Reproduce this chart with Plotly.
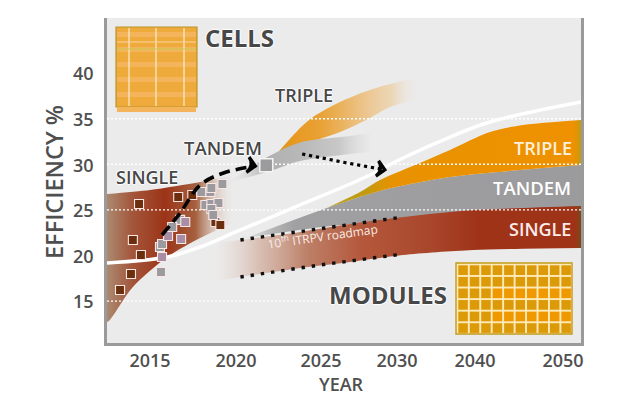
import numpy as np
import plotly.graph_objects as go

# ---- axis anchors: the source chart has a non-linear year axis
axis_years = [2012.49, 2015, 2020, 2025, 2030, 2040, 2050, 2052.05]
axis_pos = [107, 150, 236, 321, 397, 475, 563, 581]
tick_years = [2015, 2020, 2025, 2030, 2040, 2050]
eff_ticks = [15, 20, 25, 30, 35, 40]

# ---- white module trend line
trend_years = [2012.49, 2016, 2017.92, 2019.85, 2023.77, 2026.91, 2028.22, 2030.77, 2036.79, 2041.7, 2052.05]
trend_eff = [19.28, 19.93, 21.03, 22.57, 25.64, 27.94, 28.93, 30.79, 33.09, 34.74, 36.93]

# ---- cells: bands
cell_single_years_top = [2012.49, 2015, 2017.92, 2019.97]
cell_single_top = [26.84, 27.28, 28.16, 28.93]
cell_single_years_bot = [2012.49, 2012.66, 2014, 2016, 2017.92, 2019.97]
cell_single_bot = [12.81, 13.03, 16.64, 19.93, 22.02, 23.77]

cell_tandem_years_top = [2019.56, 2021.84, 2023.77, 2026.91, 2028.22]
cell_tandem_top = [28.16, 30.9, 32.5, 33.2, 33.53]
cell_tandem_years_bot = [2019.56, 2022.19, 2023.77, 2026.91, 2028.22]
cell_tandem_bot = [28.05, 29.47, 30.45, 31.23, 31.45]

cell_triple_years_top = [2022.49, 2023.77, 2024.53, 2026.25, 2028.22, 2031.28, 2032.95]
cell_triple_top = [31.45, 34.08, 35.29, 36.93, 38.25, 39.34, 39.56]
cell_triple_years_bot = [2022.49, 2026.25, 2028.22, 2029.54, 2032.95]
cell_triple_bot = [31.45, 33.64, 35.18, 36.38, 37.26]

# ---- modules: bands
mod_single_years_top = [2018.8, 2020.26, 2023.77, 2026.91, 2030.77, 2036.79, 2039.74, 2052.05]
mod_single_top = [21.47, 21.8, 22.68, 23.55, 24.32, 24.87, 25.09, 25.53]
mod_single_years_bot = [2018.8, 2020.26, 2023.77, 2026.91, 2030.77, 2039.74, 2052.05]
mod_single_bot = [17.3, 17.74, 18.73, 19.39, 20.15, 20.7, 20.92]

mod_tandem_years_top = [2020.56, 2025.39, 2029.08, 2036.79, 2045.1, 2052.05]
mod_tandem_top = [22.02, 25.31, 27.28, 28.71, 29.47, 30.02]
mod_tandem_years_bot = [2020.56, 2024.94, 2030.77, 2052.05]
mod_tandem_bot = [22.02, 23.2, 24.0, 25.0]

mod_triple_years_top = [2025.39, 2027.57, 2028.88, 2032.95, 2036.79, 2041.7, 2045.45, 2052.05]
mod_triple_top = [25.31, 27.06, 28.38, 30.24, 31.67, 33.64, 34.41, 34.96]
mod_triple_years_bot = [2025.39, 2029.08, 2036.79, 2045.1, 2052.05]
mod_triple_bot = [25.31, 27.28, 28.71, 29.47, 30.02]

# ---- roadmap dotted edges
road_years = [2020.26, 2024.94, 2030.77]
road_top = [21.8, 23.0, 24.32]
road_bot = [17.74, 19.06, 20.26]

# ---- scatter points
brown_years = [2014.36, 2016.64, 2017.46, 2014, 2014.47, 2013.89, 2013.25, 2018.8, 2019.09]
brown_eff = [25.75, 26.51, 26.73, 21.8, 20.15, 18.07, 16.32, 23.77, 23.44]
gray_years = [2017.98, 2018.51, 2018.57, 2019.21, 2018.22, 2018.57, 2018.98, 2018.57, 2018.68,
              2016.75, 2016.29, 2015.58, 2015.7, 2015.64]
gray_eff = [27.06, 27.06, 27.5, 27.94, 25.64, 25.75, 25.86, 25.2, 24.54, 24, 23.22, 21.03, 21.36, 18.29]
mauve_years = [2016.05, 2016.81, 2017.05, 2015.7]
mauve_eff = [22.24, 21.91, 23.77, 19.93]

# ---- arrows
dash_years = [2015.7, 2016.75, 2017.92, 2019.27, 2021.14]
dash_eff = [22.35, 24.76, 27.83, 29.14, 29.91]
dot_years = [2023.89, 2026.38, 2029.2]
dot_eff = [31.23, 30.35, 29.5]
tandem_point_year = [2021.78]
tandem_point_eff = [30.0]

grid_eff = [35, 30, 25, 15]
grid_end_year = [2052.05, 2052.05, 2052.05, 2024.94]

WIDTH, HEIGHT = 640, 409
L, R, T, B = 107, 581, 18, 343


def pos(years):
    return np.interp(years, axis_years, axis_pos)


def paper(px, py):
    return (px - L) / (R - L), (B - py) / (B - T)


fig = go.Figure()


def band(yt, vt, yb, vb, stops):
    fig.add_trace(go.Scatter(
        x=pos(yb), y=vb, mode="lines",
        line=dict(width=0, color="rgba(0,0,0,0)", shape="spline", smoothing=0.8),
        hoverinfo="skip", showlegend=False))
    fig.add_trace(go.Scatter(
        x=pos(yt), y=vt, mode="lines", fill="tonexty",
        line=dict(width=0, color="rgba(0,0,0,0)", shape="spline", smoothing=0.8),
        fillgradient=dict(type="horizontal", colorscale=stops),
        hoverinfo="skip", showlegend=False))


# modules
band(mod_tandem_years_top, mod_tandem_top, mod_tandem_years_bot, mod_tandem_bot,
     [[0, "rgba(215,215,215,0.5)"], [0.08, "#b5b5b5"], [0.15, "#a0a0a2"], [1, "#9b9a9d"]])
band(mod_triple_years_top, mod_triple_top, mod_triple_years_bot, mod_triple_bot,
     [[0, "#b9a020"], [0.15, "#c29a10"], [0.26, "#e89200"], [0.97, "#ef9100"], [1, "#c49a10"]])
band(mod_single_years_top, mod_single_top, mod_single_years_bot, mod_single_bot,
     [[0, "rgba(225,205,195,0)"], [0.12, "rgba(210,175,160,0.75)"], [0.25, "#bd8068"],
      [0.4, "#b4583c"], [0.6, "#a8452a"], [0.72, "#9e3318"], [0.985, "#9e3318"], [1, "#7a4a1a"]])

# cells
band(cell_triple_years_top, cell_triple_top, cell_triple_years_bot, cell_triple_bot,
     [[0, "#d49a1f"], [0.1, "#e8981f"], [0.3, "#e9a236"], [0.6, "#ecc48a"],
      [0.8, "rgba(236,205,160,0.7)"], [1, "rgba(235,235,235,0)"]])
band(cell_tandem_years_top, cell_tandem_top, cell_tandem_years_bot, cell_tandem_bot,
     [[0, "rgba(225,225,225,0)"], [0.27, "#b0b0b0"], [0.5, "#b8b8b8"], [0.78, "#c8c8c8"],
      [1, "rgba(232,232,232,0.6)"]])
band(cell_single_years_top, cell_single_top, cell_single_years_bot, cell_single_bot,
     [[0, "#ab8a70"], [0.2, "#a3553a"], [0.45, "#9c3418"], [0.69, "#a5603f"],
      [0.84, "rgba(200,170,150,0.55)"], [1, "rgba(235,235,235,0)"]])

# dotted grid
for v, e in zip(grid_eff, grid_end_year):
    fig.add_trace(go.Scatter(x=pos([axis_years[0], e]), y=[v + 0.1, v + 0.1], mode="lines",
                             line=dict(color="white", width=1.4, dash="2px,2px"),
                             hoverinfo="skip", showlegend=False))

# trend
fig.add_trace(go.Scatter(x=pos(trend_years), y=trend_eff, mode="lines",
                         line=dict(color="white", width=3.5, shape="spline"),
                         hoverinfo="skip", showlegend=False))

# roadmap dotted edges
for v in (road_top, road_bot):
    fig.add_trace(go.Scatter(x=pos(road_years), y=v, mode="lines",
                             line=dict(color="#111", width=3.4, dash="3.4px,6.9px"),
                             hoverinfo="skip", showlegend=False))

# dots and arrows
marker_line = dict(color="#fbe6e6", width=1.1)
for xs, ys, c in ((brown_years, brown_eff, "#6b2f0e"),
                  (gray_years, gray_eff, "#9b9a9f"),
                  (mauve_years, mauve_eff, "#a98da4")):
    fig.add_trace(go.Scatter(x=pos(xs), y=ys, mode="markers",
                             marker=dict(symbol="square", size=9, color=c, line=marker_line),
                             hoverinfo="skip", showlegend=False))

fig.add_trace(go.Scatter(x=pos(dash_years), y=dash_eff, mode="lines",
                         line=dict(color="#050505", width=3.6, dash="11px,6px", shape="spline"),
                         hoverinfo="skip", showlegend=False))
fig.add_trace(go.Scatter(x=pos(dot_years), y=dot_eff, mode="lines",
                         line=dict(color="#050505", width=3.2, dash="3.2px,3.8px"),
                         hoverinfo="skip", showlegend=False))
fig.add_trace(go.Scatter(x=pos([dash_years[-1], dot_years[-1]]), y=[dash_eff[-1], dot_eff[-1]],
                         mode="markers",
                         marker=dict(symbol="arrow-wide-open", size=11, angle=[100, 100],
                                     color="#050505", line=dict(color="#050505", width=3.2)),
                         hoverinfo="skip", showlegend=False))
fig.add_trace(go.Scatter(x=pos(tandem_point_year), y=tandem_point_eff, mode="markers",
                         marker=dict(symbol="square", size=13, color="#9b9a9c",
                                     line=dict(color="#f4f4f4", width=1.6)),
                         hoverinfo="skip", showlegend=False))

# ---- icons as paper shapes
shapes = []


def rect(x0, y0, x1, y1, fill, line=None, w=0):
    a, b = paper(x0, y0)
    c, d = paper(x1, y1)
    shapes.append(dict(type="rect", xref="paper", yref="paper", x0=a, y0=b, x1=c, y1=d,
                       fillcolor=fill, line=dict(color=line or fill, width=w), layer="above"))


# cell icon
rect(116, 27, 197, 107, "#efaa3c", "#b8952a", 1.2)
for top in range(29, 105, 15):
    rect(117, top + 3, 196, top + 8, "#f3b45c")
for vx in (129, 156, 184):
    rect(vx - 0.6, 28, vx + 0.6, 106, "#fdeccc")
rect(117, 48.5, 196, 49.5, "#c7c94e")
rect(117, 41.5, 196, 42.5, "#fad69f")

# module icon
rect(456, 263, 572, 334, "#fdeab8", "#c49a1a", 1.4)
cols, rows = 10, 6
cw, ch = (572 - 457.5) / cols, (334 - 264.5) / rows
for r in range(rows):
    for c in range(cols):
        x0 = 457.5 + c * cw + 0.8
        y0 = 264.5 + r * ch + 0.8
        fill = "#ef9800" if (r in (2, 4) and c >= 3) else "#dc9a08"
        rect(x0, y0, x0 + cw - 1.9, y0 + ch - 1.9, fill)

# ---- text
FONT = "Open Sans, Noto Sans, sans-serif"
HALO = "1px 0 1px #fff, -1px 0 1px #fff, 0 1px 1px #fff, 0 -1px 1px #fff"
ann = []


def label(px, py, text, size, color="#474747", weight=700, angle=0, halo=True):
    a, b = paper(px, py)
    f = dict(family=FONT, size=size, color=color, weight=weight)
    if halo:
        f["shadow"] = HALO
    ann.append(dict(xref="paper", yref="paper", x=a, y=b, text=text, showarrow=False,
                    xanchor="center", yanchor="middle", font=f, textangle=angle))


label(239, 37, "CELLS", 24)
label(388, 294, "MODULES", 24)
label(304, 95, "TRIPLE", 18, weight=600)
label(223, 147, "TANDEM", 18.5, weight=600)
label(147, 177, "SINGLE", 18, weight=600)
label(543, 148, "TRIPLE", 18, color="#fdf0dc", weight=600, halo=False)
label(532, 188, "TANDEM", 18.5, color="#ffffff", weight=600, halo=False)
label(540, 229, "SINGLE", 18, color="#fdeaea", weight=600, halo=False)
label(322, 236, "10<sup>th</sup> ITRPV roadmap", 12, color="#f8ece4", weight=400, angle=-8, halo=False)
label(54, 182, "EFFICIENCY %", 23.5, color="#4f4f4f", weight=600, angle=-90, halo=False)
label(341, 384, "YEAR", 18, color="#4f4f4f", weight=600, halo=False)

tickfont = dict(family=FONT, size=18, color="#4f4f4f", weight=600)
fig.update_layout(
    width=WIDTH, height=HEIGHT, autosize=False,
    margin=dict(l=L, r=WIDTH - R, t=T, b=HEIGHT - B, pad=0),
    paper_bgcolor="white", plot_bgcolor="#ebebeb", showlegend=False,
    shapes=shapes, annotations=ann,
    xaxis=dict(range=[L, R], tickmode="array", tickvals=list(pos(tick_years)),
               ticktext=[str(y) for y in tick_years], showgrid=False, zeroline=False,
               showline=True, linecolor="#9a9a9a", linewidth=2.5, ticks="", tickfont=tickfont),
    yaxis=dict(range=[15 - (B - 302) / 9.12, 15 + (302 - T) / 9.12], tickmode="array",
               tickvals=eff_ticks, ticktext=[str(v) for v in eff_ticks], showgrid=False,
               zeroline=False, showline=True, mirror=True, linecolor="#9a9a9a", linewidth=2.5,
               ticks="", ticklabelstandoff=7, tickfont=tickfont),
)
fig.write_html("out.html", config={"displayModeBar": False},
               post_script="document.body.style.margin='0'")
